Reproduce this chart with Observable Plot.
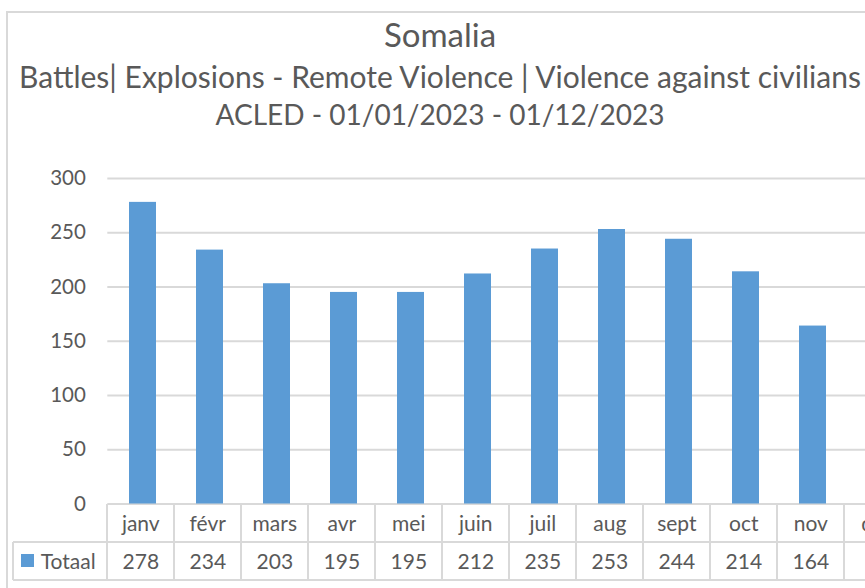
<!DOCTYPE html>
<html>
<head>
<meta charset="utf-8">
<script src="https://cdn.jsdelivr.net/npm/d3@7"></script>
<script src="https://cdn.jsdelivr.net/npm/@observablehq/plot@0.6"></script>
<style>
  html, body { margin: 0; padding: 0; background: #fff; }
  body { width: 865px; height: 588px; overflow: hidden; position: relative;
         font-family: Lato, "Open Sans", sans-serif; color: #595959; }
  #border { position: absolute; left: 6px; top: 11px; width: 1000px; height: 700px;
            border-left: 2px solid #d9d9d9; border-top: 2px solid #d9d9d9; box-sizing: border-box; }
  .t { position: absolute; left: 7px; width: 866px; text-align: center; line-height: 1; white-space: nowrap; }
  #chart { position: absolute; left: 0; top: 0; }
  .cell { position: absolute; display: flex; align-items: center; justify-content: center;
          font-size: 21px; white-space: nowrap; box-sizing: border-box; }
  .hl { position: absolute; height: 2px; background: #d9d9d9; }
  .vl { position: absolute; width: 2px; background: #d9d9d9; }
</style>
</head>
<body>
<div id="border"></div>
<div id="root"></div>
<script>
const title = "Somalia";
const subtitle = "Battles| Explosions - Remote Violence | Violence against civilians";
const source = "ACLED - 01/01/2023 - 01/12/2023";
const seriesName = "Totaal";
const months = ["janv", "févr", "mars", "avr", "mei", "juin", "juil", "aug", "sept", "oct", "nov", "déc"];
const totals = [278, 234, 203, 195, 195, 212, 235, 253, 244, 214, 164, null];
const yTicks = [0, 50, 100, 150, 200, 250, 300];

const data = months.map((m, i) => ({month: m, value: totals[i]}));
const barColor = "#5b9bd5";
const gridColor = "#d9d9d9";

const W = 865, H = 588;
const plotLeft = 107.3, step = 67.33;

const plot = Plot.plot({
  width: W,
  height: H,
  marginTop: 178,
  marginBottom: 84.5,
  marginLeft: plotLeft,
  marginRight: 0,
  style: {fontFamily: "Lato, 'Open Sans', sans-serif", fontSize: "20px", color: "#595959", background: "transparent"},
  x: {domain: months, range: [plotLeft, plotLeft + step * months.length], paddingInner: 0.6, paddingOuter: 0.3, align: 0.5, axis: null},
  y: {domain: [0, 300]},
  marks: [
    Plot.gridY(yTicks, {stroke: gridColor, strokeOpacity: 1, strokeWidth: 2}),
    Plot.barY(data.filter(d => d.value != null), {x: "month", y: "value", fill: barColor}),
    Plot.axisY(yTicks, {tickSize: 0, tickPadding: 22, fontSize: 20.5, label: null, fill: "#595959"})
  ]
});
plot.id = "chart";
const root = document.getElementById("root");
root.appendChild(plot);

// Titles
[[title, 33, 18], [subtitle, 30, 60.7], [source, 28, 100.2]].forEach(([txt, fs, top]) => {
  const d = document.createElement("div");
  d.className = "t";
  d.style.fontSize = fs + "px";
  d.style.top = top + "px";
  d.textContent = txt;
  root.appendChild(d);
});

// Data table, aligned on the x scale
const xs = plot.scale("x");
const s = xs.step;
const x0 = xs.range[0];
const yScale = plot.scale("y");
const tableTop = yScale.apply(0);
const rowH = 38;
const tableLeft = 12.7;

function add(cls, style, text) {
  const d = document.createElement("div");
  d.className = cls;
  Object.assign(d.style, style);
  if (text != null) d.textContent = text;
  root.appendChild(d);
  return d;
}

months.forEach((m, i) => {
  const left = x0 + i * s;
  add("cell", {left: left + "px", top: tableTop + "px", width: s + "px", height: rowH + "px"}, m);
  add("cell", {left: left + "px", top: (tableTop + rowH) + "px", width: s + "px", height: rowH + "px"},
      totals[i] == null ? "" : String(totals[i]));
});
// Legend cell
const lc = add("cell", {left: tableLeft + "px", top: (tableTop + rowH) + "px", width: (x0 - tableLeft) + "px", height: rowH + "px", justifyContent: "flex-start", paddingLeft: "8px"});
const sw = document.createElement("span");
Object.assign(sw.style, {display: "inline-block", width: "13px", height: "13px", background: barColor, marginRight: "7px"});
lc.appendChild(sw);
lc.appendChild(document.createTextNode(seriesName));

// Table lines
add("hl", {left: tableLeft + "px", top: (tableTop + rowH - 1) + "px", width: (W - tableLeft) + "px"});
add("hl", {left: tableLeft + "px", top: (tableTop + 2 * rowH - 1) + "px", width: (W - tableLeft) + "px"});
add("vl", {left: (tableLeft - 1) + "px", top: (tableTop + rowH) + "px", height: rowH + "px"});
for (let i = 0; i <= months.length; i++) {
  add("vl", {left: (x0 + i * s - 1) + "px", top: tableTop + "px", height: (2 * rowH) + "px"});
}
</script>
</body>
</html>
